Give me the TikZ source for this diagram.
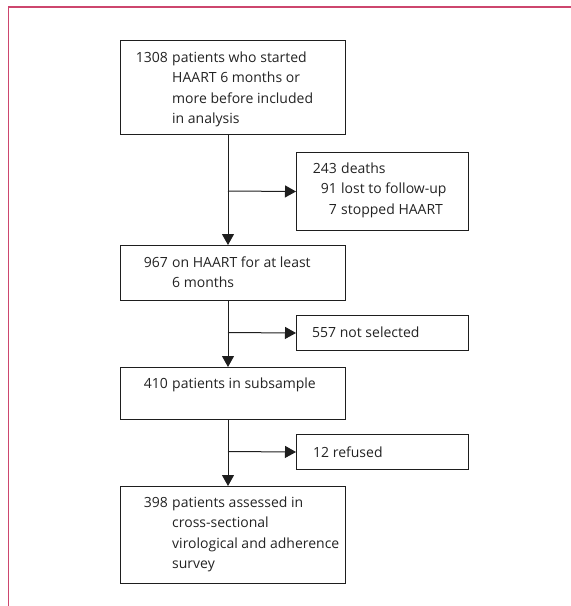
\documentclass[tikz,border=0pt]{standalone}
\usepackage{fontspec}
\setmainfont{Open Sans}
\usetikzlibrary{arrows.meta}
\definecolor{framecol}{RGB}{205,70,110}
\definecolor{linecol}{RGB}{30,30,30}
\definecolor{txtcol}{RGB}{35,35,35}
\newcommand{\boxfont}{\fontsize{14}{20.6}\selectfont}
\begin{document}
\begin{tikzpicture}[x=1pt,y=-1pt,
  fbox/.style={draw=linecol, line width=1pt, rectangle, inner sep=0pt, anchor=north west},
  btext/.style={anchor=base west, inner sep=0pt, text=txtcol, font=\boxfont},
  flow/.style={draw=linecol, line width=1pt, -{Triangle[length=11pt,width=12pt]}}]
\useasboundingbox (0,0) rectangle (571,606);
\draw[framecol, line width=1.8pt] (8.5,606) -- (8.5,7) -- (571,7);
% boxes
\node[fbox, minimum width=225pt, minimum height=94pt] (b1) at (120,40) {};
\node[fbox, minimum width=172pt, minimum height=78pt] (b2) at (296,152) {};
\node[fbox, minimum width=225pt, minimum height=55pt] (b3) at (120,245) {};
\node[fbox, minimum width=172pt, minimum height=35pt] (b4) at (296,315) {};
\node[fbox, minimum width=225pt, minimum height=52pt] (b5) at (120,367) {};
\node[fbox, minimum width=172pt, minimum height=35pt] (b6) at (296,434) {};
\node[fbox, minimum width=225pt, minimum height=97pt] (b7) at (120,486) {};
% texts
\node[btext, anchor=base east] (n1) at (168,62) {1308};
\node[btext] (t1) at (172,62) {\begin{tabular}[t]{@{}l@{}}patients who started\\HAART 6 months or\\more before included\\in analysis\end{tabular}};
\node[btext, anchor=base east] (n2) at (337,173) {\begin{tabular}[t]{@{}r@{}}243\\91\\7\end{tabular}};
\node[btext] (t2) at (341,173) {\begin{tabular}[t]{@{}l@{}}deaths\\lost to follow-up\\stopped HAART\end{tabular}};
\node[btext, anchor=base east] (n3) at (168,267) {967};
\node[btext] (t3) at (172,267) {\begin{tabular}[t]{@{}l@{}}on HAART for at least\\6 months\end{tabular}};
\node[btext] (t4) at (312,337) {557 not selected};
\node[btext, anchor=base east] (n5) at (168,388) {410};
\node[btext] (t5) at (172,388) {patients in subsample};
\node[btext] (t6) at (313,457) {12 refused};
\node[btext, anchor=base east] (n7) at (168,507) {398};
\node[btext] (t7) at (172,507) {\begin{tabular}[t]{@{}l@{}}patients assessed in\\cross-sectional\\virological and adherence\\survey\end{tabular}};
% connectors
\coordinate (j1) at (228,191);
\coordinate (j2) at (228,332.5);
\coordinate (j3) at (228,451.5);
\draw[flow] (b1.south -| j1) -- (b3.north -| j1);
\draw[flow] (j1) -- (b2.west);
\draw[flow] (b3.south -| j2) -- (b5.north -| j2);
\draw[flow] (j2) -- (b4.west);
\draw[flow] (b5.south -| j3) -- (b7.north -| j3);
\draw[flow] (j3) -- (b6.west);
\end{tikzpicture}
\end{document}
